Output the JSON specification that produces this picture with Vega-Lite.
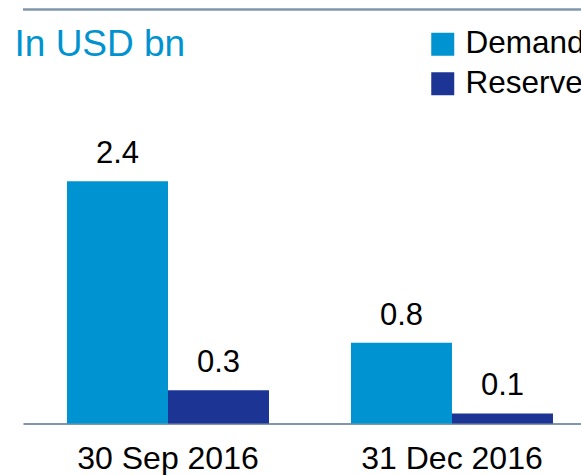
{
  "$schema": "https://vega.github.io/schema/vega-lite/v6.json",
  "autosize": "none",
  "width": 558,
  "height": 414,
  "padding": {"left": 23, "top": 9.5, "right": 0, "bottom": 51.5},
  "background": "white",
  "config": {
    "font": "Liberation Sans",
    "view": {"stroke": null}
  },
  "title": {
    "text": "In USD bn",
    "anchor": "start",
    "frame": "group",
    "orient": "top",
    "baseline": "alphabetic",
    "offset": 0,
    "dx": -8.5,
    "dy": 84.5,
    "font": "Liberation Sans",
    "fontSize": 37,
    "fontWeight": "normal",
    "color": "#0093D0"
  },
  "data": {
    "values": [
      {"date": "30 Sep 2016", "type": "Demand", "value": 2.4},
      {"date": "30 Sep 2016", "type": "Reserve", "value": 0.33},
      {"date": "31 Dec 2016", "type": "Demand", "value": 0.8},
      {"date": "31 Dec 2016", "type": "Reserve", "value": 0.1}
    ]
  },
  "encoding": {
    "x": {
      "field": "date",
      "type": "nominal",
      "sort": null,
      "scale": {"paddingInner": 0.2887, "paddingOuter": 0.1268, "align": 0.611},
      "axis": {
        "title": null,
        "labelAngle": 0,
        "ticks": false,
        "domainColor": "#8096AA",
        "domainWidth": 2,
        "labelFont": "Liberation Sans",
        "labelFontSize": 32,
        "labelColor": "#000000",
        "labelBaseline": "alphabetic",
        "labelPadding": 45,
        "labelLimit": 400
      }
    },
    "xOffset": {"field": "type", "type": "nominal", "scale": {"paddingInner": 0, "paddingOuter": 0}}
  },
  "layer": [
    {
      "mark": {"type": "bar"},
      "encoding": {
        "y": {"field": "value", "type": "quantitative", "scale": {"domain": [0, 4.1], "nice": false, "zero": true}, "axis": null},
        "color": {
          "field": "type",
          "type": "nominal",
          "scale": {"domain": ["Demand", "Reserve"], "range": ["#0093D1", "#1C3494"]},
          "legend": {
            "title": null,
            "orient": "none",
            "legendX": 404,
            "legendY": 19,
            "padding": 0,
            "symbolType": "square",
            "symbolSize": 529,
            "symbolStrokeWidth": 0,
            "symbolOpacity": 1,
            "labelFont": "Liberation Sans",
            "labelFontSize": 31.5,
            "labelColor": "#000000",
            "labelOffset": 7,
            "rowPadding": 6.5,
            "labelLimit": 300
          }
        }
      }
    },
    {
      "mark": {"type": "text", "baseline": "alphabetic", "dy": -18, "fontSize": 31, "font": "Liberation Sans", "color": "#000000"},
      "encoding": {
        "y": {"field": "value", "type": "quantitative"},
        "text": {"field": "value", "type": "quantitative", "format": ".1f"}
      }
    },
    {
      "data": {"values": [{"top": 4.1}]},
      "mark": {"type": "rule", "stroke": "#8096AA", "strokeWidth": 2.5},
      "encoding": {
        "y": {"field": "top", "type": "quantitative"},
        "x": null,
        "xOffset": null
      }
    }
  ]
}
